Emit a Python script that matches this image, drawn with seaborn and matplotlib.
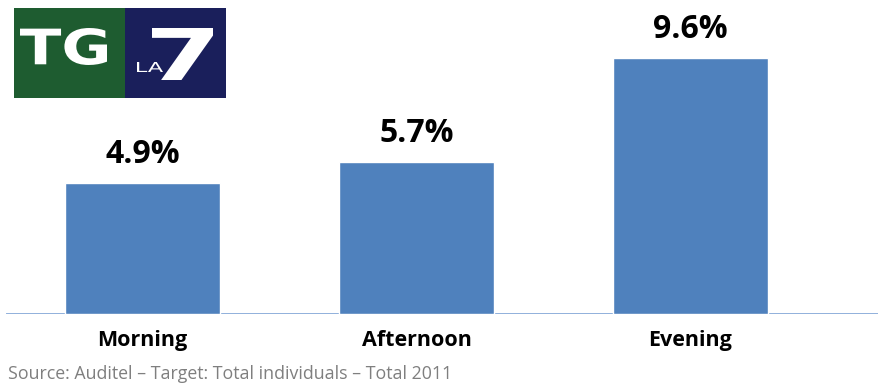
import matplotlib
matplotlib.use("Agg")
import matplotlib.pyplot as plt
from matplotlib.patches import Rectangle, PathPatch
from matplotlib.textpath import TextPath
from matplotlib.font_manager import FontProperties
from matplotlib.transforms import Affine2D
import seaborn as sns
import pandas as pd

# Share of audience by time slot
categories = ["Morning", "Afternoon", "Evening"]
shares = [4.9, 5.7, 9.6]
source_note = "Source: Auditel \u2013 Target: Total individuals \u2013 Total 2011"

sns.set_theme(style="white")
plt.rcParams["font.family"] = ["Open Sans", "DejaVu Sans"]

W, H = 879, 385
fig = plt.figure(figsize=(W / 100, H / 100), dpi=100)
fig.patch.set_facecolor("white")

base_px = 314
ax = fig.add_axes([6 / W, (H - base_px) / H, (W - 6) / W, base_px / H])
ax.set_facecolor("none")

df = pd.DataFrame({"slot": categories, "share": shares})
sns.barplot(data=df, x="slot", y="share", color="#4F81BD", saturation=1,
            width=0.566, ax=ax, zorder=2)

ax.set_xlim(-0.498, 2.688)
ax.set_ylim(0, 11.775)
for s in ax.spines.values():
    s.set_visible(False)
ax.axhline(0, color="#86A9D8", lw=2.0, zorder=1)
ax.set_yticks([])
ax.set_xlabel("")
ax.set_ylabel("")
ax.tick_params(axis="x", length=0, pad=23)
ax.set_xticks(range(len(categories)))
ax.set_xticklabels(categories, fontsize=15.5, fontweight="bold", color="black")
for lbl in ax.get_xticklabels():
    lbl.set_va("baseline")

for i, v in enumerate(shares):
    ax.annotate(f"{v:.1f}%", (i, v), xytext=(0, 14.5), textcoords="offset points",
                ha="center", va="baseline", fontsize=23, fontweight="bold",
                color="black")

fig.text(8 / W, 6 / H, source_note, fontsize=12.8, color="#7F7F7F",
         ha="left", va="baseline")

# TG LA7 logo, drawn in a small axes measured in pixels (y pointing down)
lx0, ly0, lw, lh = 14, 8, 212, 90
lax = fig.add_axes([lx0 / W, (H - ly0 - lh) / H, lw / W, lh / H])
lax.set_xlim(0, lw)
lax.set_ylim(lh, 0)
lax.axis("off")
lax.add_patch(Rectangle((0, 0), 111, lh, color="#1E5C30", lw=0))
lax.add_patch(Rectangle((111, 0), lw - 111, lh, color="#1A1F5B", lw=0))


def boxed_text(target, s, x0, y0, x1, y1, weight="bold", italic=False):
    """Draw string s as a filled outline stretched into the box (x0, y0)-(x1, y1)."""
    prop = FontProperties(family="DejaVu Sans", weight=weight,
                          style="oblique" if italic else "normal")
    tp = TextPath((0, 0), s, size=1, prop=prop)
    bb = tp.get_extents()
    tr = (Affine2D().translate(-bb.x0, -bb.y0)
          .scale((x1 - x0) / bb.width, -(y1 - y0) / bb.height)
          .translate(x0, y1))
    target.add_patch(PathPatch(tr.transform_path(tp), facecolor="white",
                               edgecolor="none"))


boxed_text(lax, "TG", 6, 20, 93, 57)
boxed_text(lax, "LA", 123, 54, 149, 64, weight="normal")
boxed_text(lax, "7", 138, 20, 199, 72)

fig.savefig("out.png", dpi=100, facecolor="white")
